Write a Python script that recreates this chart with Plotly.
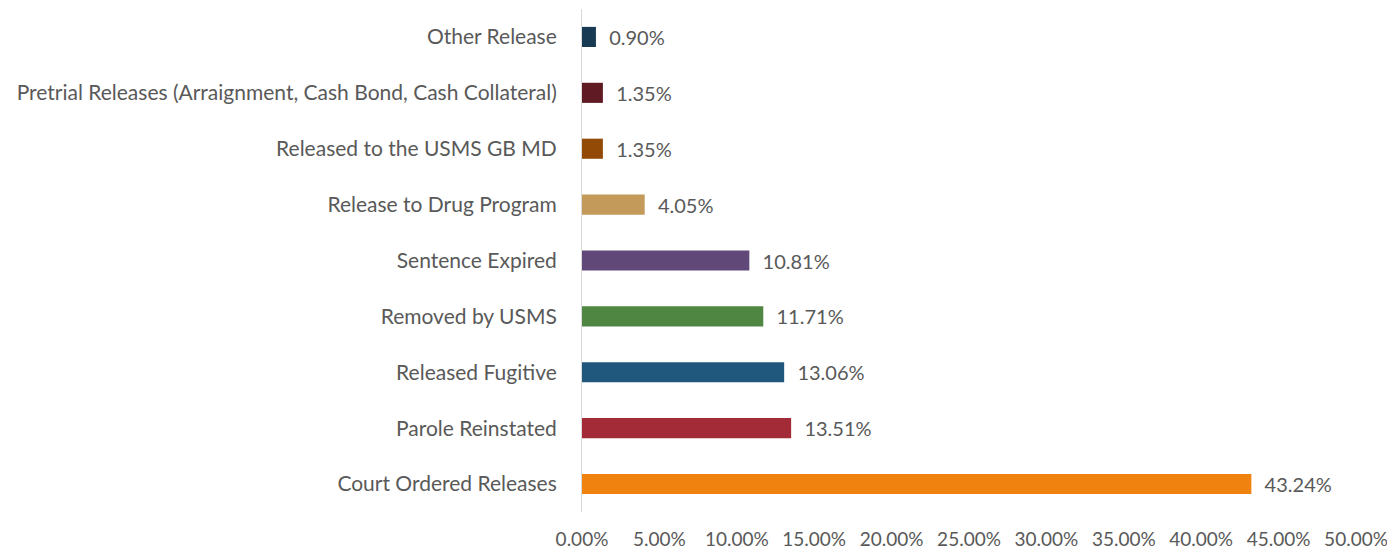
import plotly.graph_objects as go

categories = [
    "Court Ordered Releases",
    "Parole Reinstated",
    "Released Fugitive",
    "Removed by USMS",
    "Sentence Expired",
    "Release to Drug Program",
    "Released to the USMS GB MD",
    "Pretrial Releases (Arraignment, Cash Bond, Cash Collateral)",
    "Other Release",
]
shares = [43.24, 13.51, 13.06, 11.71, 10.81, 4.05, 1.35, 1.35, 0.90]
bar_colors = [
    "#F0820F", "#A32A37", "#1F587C", "#4E8642", "#604878",
    "#C49A5A", "#934A07", "#5F1A24", "#183A52",
]
tick_vals = [0, 5, 10, 15, 20, 25, 30, 35, 40, 45, 50]
tick_text = [f"{v:.2f}%" for v in tick_vals]

fig = go.Figure(
    go.Bar(
        x=shares,
        y=categories,
        orientation="h",
        marker=dict(color=bar_colors, line=dict(width=0)),
        text=[f"  {v:.2f}%" for v in shares],
        textposition="outside",
        constraintext="none",
        cliponaxis=False,
        textfont=dict(size=20, color="#595959"),
    )
)

# page body has an 8px default margin, so the figure is sized to fit beside it
fig.update_layout(
    width=1387,
    height=545,
    margin=dict(l=574, r=39, t=1, b=41, autoexpand=False),
    paper_bgcolor="white",
    plot_bgcolor="white",
    font=dict(family="Lato, Open Sans, sans-serif", size=21, color="#595959"),
    bargap=0.64,
    showlegend=False,
)
fig.update_xaxes(
    range=[0, 50],
    tickvals=tick_vals,
    ticktext=tick_text,
    tickfont=dict(size=19),
    ticklabelstandoff=14,
    showgrid=False,
    zeroline=False,
    showline=False,
    ticks="",
    automargin=False,
)
fig.update_yaxes(
    showline=True,
    linecolor="#D9D9D9",
    linewidth=1,
    ticks="",
    ticklabelstandoff=20,
    showgrid=False,
    automargin=False,
)

fig.write_html("out.html")
